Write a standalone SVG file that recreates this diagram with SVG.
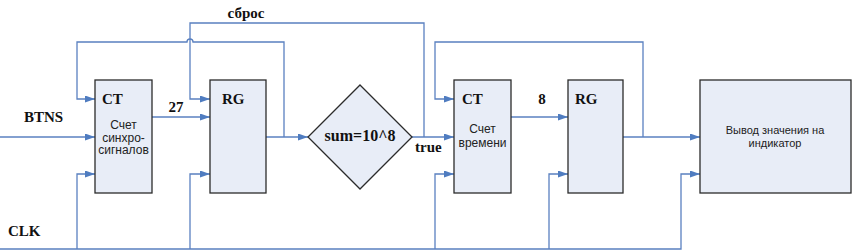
<svg xmlns="http://www.w3.org/2000/svg" width="852" height="251" viewBox="0 0 852 251">
<defs>
<marker id="arr" markerUnits="userSpaceOnUse" markerWidth="11" markerHeight="8" refX="10" refY="3.5" orient="auto">
<path d="M0,0 L10,3.5 L0,7 z" fill="#4f7cc0"/>
</marker>
<style>
.box{fill:#e8edf7;stroke:#2b2b2b;stroke-width:1.3}
.ln{fill:none;stroke:#5a80c0;stroke-width:1.3}
.a{marker-end:url(#arr)}
.b{font-family:"Liberation Serif","Times New Roman",serif;font-weight:bold;font-size:15px;fill:#111}
.s{font-family:"Liberation Sans",Arial,sans-serif;font-size:12px;fill:#222;text-anchor:middle}
.s2{font-family:"Liberation Sans",Arial,sans-serif;font-size:11px;fill:#222;text-anchor:middle}
</style>
</defs>
<rect width="852" height="251" fill="#ffffff"/>
<g id="connectors">
<path class="ln a" d="M0,137 H95"/>
<path class="ln a" d="M0,249 H681 V174 H700"/>
<path class="ln a" d="M77,249 V174 H95"/>
<path class="ln a" d="M190,249 V174 H210"/>
<path class="ln a" d="M435,249 V174 H454"/>
<path class="ln a" d="M549,249 V174 H568"/>
<path class="ln a" d="M152,117 H210"/>
<path class="ln a" d="M266,137 H308"/>
<path class="ln a" d="M284,137 V42 H193 a3,3 0 0 0 -6,0 H77 V99 H95"/>
<path class="ln a" d="M412,137 H454"/>
<path class="ln a" d="M424,137 V23 H190 V99 H210"/>
<path class="ln a" d="M511,117 H568"/>
<path class="ln a" d="M623,137 H700"/>
<path class="ln a" d="M643,137 V42 H435 V99 H454"/>
</g>
<g id="ct1">
<rect class="box" x="95" y="80" width="57" height="113"/>
<text class="b" x="102" y="104">CT</text>
<text class="s" x="123.5" y="129">Счет</text>
<text class="s" x="123.5" y="141.5">синхро-</text>
<text class="s" x="123.5" y="154">сигналов</text>
</g>
<g id="rg1">
<rect class="box" x="210" y="80" width="56" height="113"/>
<text class="b" x="222" y="104">RG</text>
</g>
<g id="cmp">
<polygon class="box" points="360,85 412,137 360,189 308,137"/>
<text class="b" x="360" y="141" text-anchor="middle" style="font-size:16px">sum=10^8</text>
</g>
<g id="ct2">
<rect class="box" x="454" y="80" width="57" height="113"/>
<text class="b" x="462" y="104">CT</text>
<text class="s" x="482.5" y="133">Счет</text>
<text class="s" x="482.5" y="146.5">времени</text>
</g>
<g id="rg2">
<rect class="box" x="568" y="80" width="55" height="113"/>
<text class="b" x="575" y="104">RG</text>
</g>
<g id="display">
<rect class="box" x="700" y="80" width="151" height="113"/>
<text class="s2" x="775" y="134">Вывод значения на</text>
<text class="s2" x="775" y="147">индикатор</text>
</g>
<g id="labels">
<text class="b" x="246" y="18" text-anchor="middle">сброс</text>
<text class="b" x="24" y="122">BTNS</text>
<text class="b" x="8" y="236">CLK</text>
<text class="b" x="176" y="112" text-anchor="middle">27</text>
<text class="b" x="542" y="104" text-anchor="middle">8</text>
<text class="b" x="415" y="152">true</text>
</g>
</svg>
